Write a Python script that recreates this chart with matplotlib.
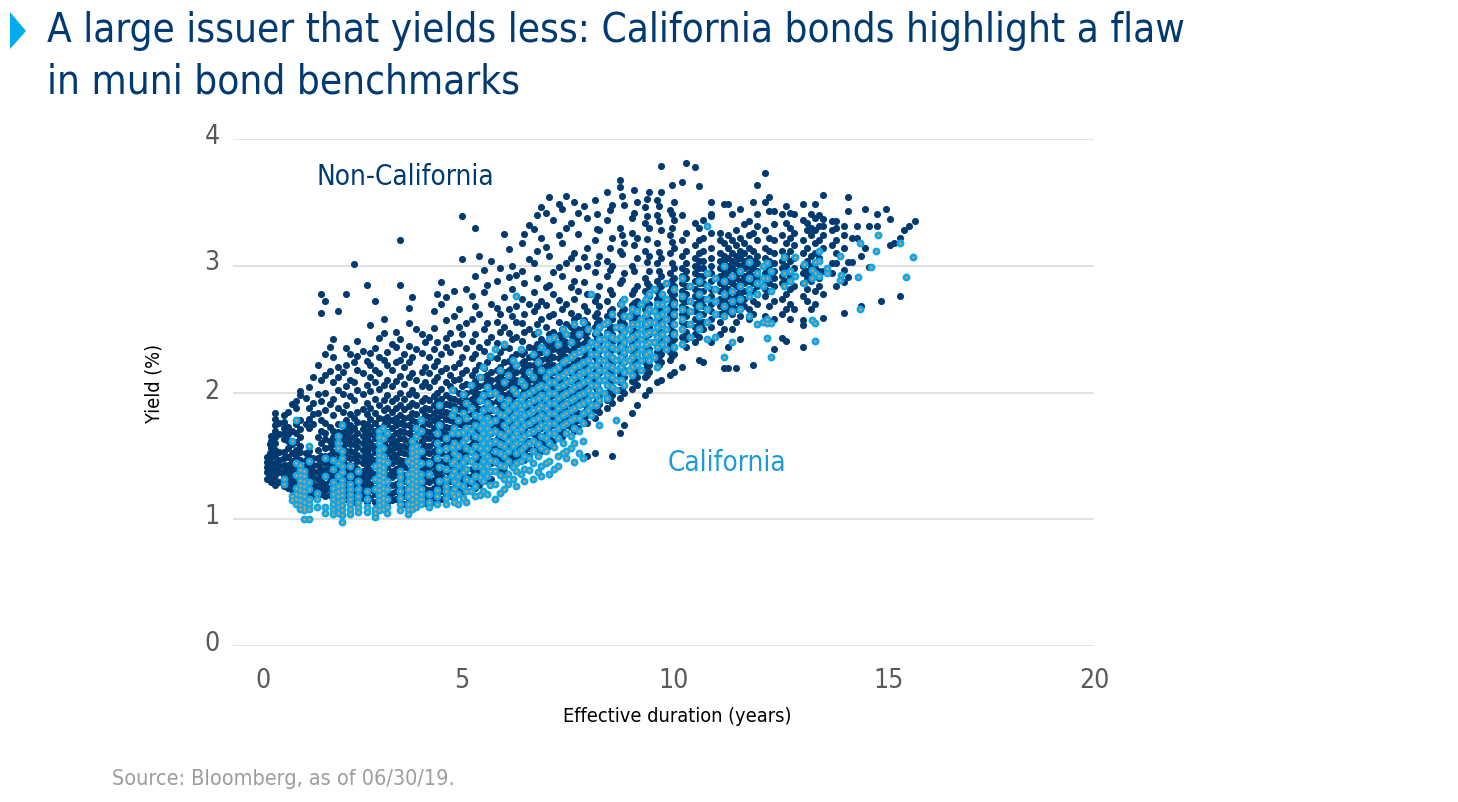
import matplotlib
matplotlib.use("Agg")
import matplotlib.pyplot as plt
from matplotlib.patches import Polygon

# (effective duration, [yields])
noncal_short = [
    (0.1, [1.32, 1.37, 1.41, 1.45, 1.49]),
    (0.2, [1.29, 1.33, 1.36, 1.40, 1.44, 1.49, 1.56, 1.62, 1.66]),
    (0.3, [1.27, 1.31, 1.35, 1.39, 1.44, 1.50, 1.55, 1.60, 1.65, 1.70, 1.74, 1.79, 1.84]),
    (0.5, [1.26, 1.30, 1.34, 1.38, 1.43, 1.48, 1.53, 1.63, 1.68, 1.72, 1.77, 1.82]),
    (0.6, [1.25, 1.29, 1.34, 1.39, 1.43, 1.49, 1.56, 1.62, 1.67, 1.73, 1.85]),
    (0.8, [1.21, 1.25, 1.30, 1.35, 1.39, 1.44, 1.50, 1.55, 1.61, 1.68, 1.75, 1.88, 1.93]),
    (0.9, [1.20, 1.26, 1.31, 1.36, 1.42, 1.47, 1.53, 1.58, 1.65, 1.71, 1.78, 1.98, 2.01]),
    (1.1, [1.19, 1.24, 1.29, 1.34, 1.39, 1.44, 1.49, 1.54, 1.72, 1.79, 1.88, 2.04]),
    (1.2, [1.18, 1.23, 1.28, 1.33, 1.38, 1.43, 1.48, 1.75, 1.83, 1.92, 2.12]),
    (1.4, [1.20, 1.25, 1.30, 1.35, 1.40, 1.45, 1.50, 1.60, 1.70, 1.78, 1.93, 2.10, 2.63, 2.78]),
    (1.5, [1.18, 1.23, 1.28, 1.34, 1.39, 1.44, 1.50, 1.56, 1.63, 1.68, 1.76, 1.86, 2.00, 2.14, 2.30, 2.72]),
    (1.7, [1.17, 1.22, 1.27, 1.33, 1.38, 1.43, 1.48, 1.53, 1.59, 1.65, 1.70, 1.82, 1.95, 2.08, 2.28, 2.42]),
    (1.8, [1.15, 1.21, 1.26, 1.31, 1.37, 1.42, 1.47, 1.52, 1.58, 1.63, 1.69, 1.75, 1.88, 2.02, 2.12, 2.20, 2.64]),
    (2.0, [1.16, 1.22, 1.27, 1.33, 1.38, 1.43, 1.49, 1.54, 1.60, 1.66, 1.72, 1.78, 1.90, 2.05, 2.22, 2.35, 2.78]),
    (2.1, [1.16, 1.21, 1.26, 1.32, 1.37, 1.43, 1.48, 1.54, 1.59, 1.64, 1.70, 1.74, 1.83, 1.97, 2.10, 2.30]),
    (2.2, [1.14, 1.20, 1.26, 1.31, 1.37, 1.42, 1.48, 1.53, 1.59, 1.65, 1.72, 1.80, 1.94, 2.08, 2.24, 3.01]),
    (2.4, [1.17, 1.22, 1.28, 1.33, 1.38, 1.44, 1.49, 1.55, 1.60, 1.66, 1.71, 1.76, 1.87, 1.99, 2.15, 2.33]),
    (2.5, [1.14, 1.19, 1.25, 1.30, 1.36, 1.41, 1.47, 1.53, 1.58, 1.64, 1.69, 1.75, 1.83, 1.92, 2.06, 2.25, 2.85]),
    (2.7, [1.14, 1.20, 1.25, 1.31, 1.36, 1.42, 1.47, 1.53, 1.58, 1.64, 1.70, 1.76, 1.84, 1.95, 2.08, 2.18, 2.35, 2.72]),
    (2.8, [1.15, 1.20, 1.26, 1.32, 1.38, 1.43, 1.49, 1.55, 1.61, 1.66, 1.72, 1.80, 1.90, 2.03, 2.15, 2.28, 2.43]),
    (3.0, [1.13, 1.18, 1.24, 1.30, 1.35, 1.41, 1.46, 1.52, 1.57, 1.63, 1.69, 1.75, 1.81, 1.88, 1.98, 2.10, 2.22, 2.32]),
    (3.1, [1.15, 1.21, 1.27, 1.33, 1.38, 1.44, 1.49, 1.55, 1.60, 1.66, 1.72, 1.78, 1.85, 1.93, 2.05, 2.18, 2.38]),
    (3.3, [1.14, 1.19, 1.24, 1.30, 1.36, 1.42, 1.47, 1.53, 1.58, 1.64, 1.70, 1.76, 1.82, 1.90, 2.00, 2.13, 2.26, 2.42, 2.85, 3.20]),
    (3.4, [1.12, 1.18, 1.24, 1.30, 1.35, 1.41, 1.46, 1.52, 1.58, 1.63, 1.69, 1.74, 1.80, 1.87, 1.95, 2.07, 2.20, 2.30]),
    (3.6, [1.14, 1.20, 1.26, 1.32, 1.37, 1.43, 1.49, 1.54, 1.60, 1.66, 1.72, 1.78, 1.84, 1.92, 2.02, 2.15, 2.28, 2.75]),
    (3.7, [1.15, 1.20, 1.25, 1.31, 1.36, 1.42, 1.47, 1.53, 1.59, 1.65, 1.71, 1.77, 1.83, 1.90, 1.98, 2.10, 2.34, 2.50]),
    (3.9, [1.13, 1.18, 1.24, 1.30, 1.36, 1.41, 1.47, 1.53, 1.58, 1.64, 1.70, 1.76, 1.82, 1.88, 1.96, 2.08, 2.20, 2.40]),
    (4.0, [1.12, 1.17, 1.23, 1.29, 1.35, 1.41, 1.46, 1.52, 1.58, 1.64, 1.69, 1.75, 1.81, 1.87, 1.94, 2.04, 2.15, 2.28, 2.44]),
    (4.2, [1.15, 1.21, 1.27, 1.33, 1.38, 1.44, 1.50, 1.56, 1.62, 1.68, 1.74, 1.80, 1.86, 1.93, 2.00, 2.12, 2.25, 2.40, 2.78]),
    (4.3, [1.16, 1.22, 1.28, 1.34, 1.40, 1.46, 1.52, 1.58, 1.64, 1.70, 1.76, 1.82, 1.88, 1.95, 2.03, 2.17, 2.30, 2.70, 2.87]),
    (4.5, [1.18, 1.24, 1.30, 1.36, 1.42, 1.48, 1.54, 1.60, 1.66, 1.72, 1.78, 1.84, 1.90, 1.96, 2.05, 2.14, 2.32, 2.47]),
    (4.6, [1.17, 1.23, 1.29, 1.35, 1.41, 1.47, 1.53, 1.59, 1.65, 1.71, 1.77, 1.83, 1.89, 1.95, 2.02, 2.10, 2.20, 2.38, 2.60, 2.80]),
    (4.8, [1.20, 1.26, 1.32, 1.38, 1.44, 1.50, 1.56, 1.62, 1.68, 1.74, 1.80, 1.86, 1.92, 1.98, 2.05, 2.15, 2.28, 2.46, 3.39, 3.05]),
    (4.9, [1.22, 1.28, 1.34, 1.40, 1.46, 1.52, 1.58, 1.64, 1.70, 1.76, 1.82, 1.88, 1.94, 2.00, 2.07, 2.18, 2.35, 2.55, 2.82]),
]
noncal_short_fill = [
    (0.16, [1.35, 1.43, 1.52, 1.59]),
    (0.38, [1.29, 1.37, 1.42, 1.47, 1.53, 1.67, 1.76]),
    (0.71, [1.23, 1.28, 1.33, 1.37, 1.41, 1.46, 1.52, 1.59, 1.70, 1.91]),
    (1.03, [1.22, 1.27, 1.32, 1.37, 1.42, 1.47, 1.52, 1.75, 1.96]),
    (1.33, [1.21, 1.26, 1.32, 1.37, 1.43, 1.48, 1.55, 1.65, 1.84, 1.99, 2.22]),
    (1.62, [1.19, 1.25, 1.31, 1.36, 1.41, 1.46, 1.51, 1.57, 1.62, 1.73, 1.91, 2.17, 2.36]),
    (1.92, [1.18, 1.24, 1.30, 1.35, 1.41, 1.46, 1.52, 1.57, 1.63, 1.69, 1.75, 1.85, 1.99, 2.16]),
    (2.27, [1.18, 1.24, 1.29, 1.35, 1.40, 1.46, 1.51, 1.57, 1.62, 1.68, 1.77, 1.85, 2.02, 2.18, 2.29, 2.41]),
    (2.58, [1.17, 1.23, 1.28, 1.34, 1.39, 1.45, 1.50, 1.56, 1.61, 1.67, 1.73, 1.79, 1.88, 2.01, 2.12, 2.22, 2.31, 2.53]),
    (2.91, [1.16, 1.22, 1.27, 1.33, 1.39, 1.44, 1.50, 1.54, 1.60, 1.67, 1.74, 1.79, 1.86, 1.94, 2.06, 2.26, 2.47, 2.58]),
    (3.21, [1.16, 1.22, 1.28, 1.35, 1.40, 1.46, 1.51, 1.57, 1.62, 1.68, 1.74, 1.80, 1.88, 1.96, 2.09, 2.24, 2.36, 2.48]),
    (3.52, [1.15, 1.22, 1.28, 1.34, 1.39, 1.45, 1.51, 1.56, 1.62, 1.68, 1.74, 1.81, 1.89, 1.99, 2.12, 2.24, 2.37, 2.55, 2.67]),
    (3.83, [1.16, 1.22, 1.28, 1.34, 1.39, 1.45, 1.50, 1.56, 1.62, 1.67, 1.73, 1.79, 1.86, 1.93, 2.05, 2.16, 2.31, 2.46]),
    (4.12, [1.14, 1.19, 1.25, 1.31, 1.37, 1.43, 1.48, 1.54, 1.60, 1.66, 1.72, 1.78, 1.84, 1.90, 1.97, 2.09, 2.21, 2.34, 2.51, 2.64]),
    (4.42, [1.20, 1.26, 1.32, 1.38, 1.44, 1.50, 1.56, 1.61, 1.67, 1.73, 1.79, 1.85, 1.91, 1.98, 2.08, 2.19, 2.36, 2.43, 2.57, 2.75]),
    (4.72, [1.22, 1.28, 1.34, 1.40, 1.46, 1.52, 1.57, 1.63, 1.69, 1.75, 1.81, 1.87, 1.93, 2.00, 2.11, 2.23, 2.39, 2.52, 2.66]),
]
noncal_mid = [
    (5.1, [1.25, 1.31, 1.37, 1.43, 1.49, 1.55, 1.61, 1.67, 1.73, 1.79, 1.85, 1.91, 1.97, 2.03, 2.09, 2.18, 2.30, 2.46, 2.68, 2.92, 3.30]),
    (5.2, [1.27, 1.33, 1.39, 1.45, 1.51, 1.57, 1.63, 1.69, 1.75, 1.81, 1.87, 1.93, 1.99, 2.05, 2.12, 2.22, 2.36, 2.62, 3.08]),
    (5.4, [1.30, 1.36, 1.42, 1.48, 1.54, 1.60, 1.66, 1.72, 1.78, 1.84, 1.90, 1.96, 2.02, 2.08, 2.14, 2.24, 2.40, 2.55, 2.85]),
    (5.5, [1.32, 1.38, 1.44, 1.50, 1.56, 1.62, 1.68, 1.74, 1.80, 1.86, 1.92, 1.98, 2.04, 2.10, 2.16, 2.28, 2.44, 2.70, 3.04]),
    (5.7, [1.35, 1.41, 1.47, 1.53, 1.59, 1.65, 1.71, 1.77, 1.83, 1.89, 1.95, 2.01, 2.07, 2.13, 2.20, 2.32, 2.48, 2.62, 2.98]),
    (5.8, [1.38, 1.44, 1.50, 1.56, 1.62, 1.68, 1.74, 1.80, 1.86, 1.92, 1.98, 2.04, 2.10, 2.16, 2.24, 2.36, 2.52, 2.75, 3.25]),
    (6.0, [1.42, 1.48, 1.54, 1.60, 1.66, 1.72, 1.78, 1.84, 1.90, 1.96, 2.02, 2.08, 2.14, 2.20, 2.28, 2.42, 2.60, 2.82, 3.00]),
    (6.1, [1.44, 1.50, 1.56, 1.62, 1.68, 1.74, 1.80, 1.86, 1.92, 1.98, 2.04, 2.10, 2.16, 2.22, 2.30, 2.44, 2.56, 2.68, 2.93]),
    (6.3, [1.47, 1.53, 1.59, 1.65, 1.71, 1.77, 1.83, 1.89, 1.95, 2.01, 2.07, 2.13, 2.19, 2.25, 2.32, 2.48, 2.62, 2.86, 3.25]),
    (6.4, [1.50, 1.56, 1.62, 1.68, 1.74, 1.80, 1.86, 1.92, 1.98, 2.04, 2.10, 2.16, 2.22, 2.28, 2.36, 2.50, 2.70, 3.05, 3.32]),
    (6.6, [1.52, 1.58, 1.64, 1.70, 1.76, 1.82, 1.88, 1.94, 2.00, 2.06, 2.12, 2.18, 2.24, 2.30, 2.38, 2.54, 2.68, 2.90, 3.12, 3.40]),
    (6.7, [1.54, 1.60, 1.66, 1.72, 1.78, 1.84, 1.90, 1.96, 2.02, 2.08, 2.14, 2.20, 2.26, 2.32, 2.42, 2.58, 2.72, 3.22, 3.46]),
    (6.9, [1.58, 1.64, 1.70, 1.76, 1.82, 1.88, 1.94, 2.00, 2.06, 2.12, 2.18, 2.24, 2.30, 2.36, 2.46, 2.60, 2.85, 3.08, 3.54]),
    (7.0, [1.62, 1.68, 1.74, 1.80, 1.86, 1.92, 1.98, 2.04, 2.10, 2.16, 2.22, 2.28, 2.34, 2.40, 2.48, 2.62, 2.78, 2.95, 3.36]),
    (7.2, [1.65, 1.71, 1.77, 1.83, 1.89, 1.95, 2.01, 2.07, 2.13, 2.19, 2.25, 2.31, 2.37, 2.43, 2.50, 2.66, 2.92, 3.18, 3.45]),
    (7.3, [1.68, 1.74, 1.80, 1.86, 1.92, 1.98, 2.04, 2.10, 2.16, 2.22, 2.28, 2.34, 2.40, 2.46, 2.54, 2.70, 3.02, 3.30, 3.55]),
    (7.5, [1.70, 1.76, 1.82, 1.88, 1.94, 2.00, 2.06, 2.12, 2.18, 2.24, 2.30, 2.36, 2.42, 2.48, 2.58, 2.74, 2.88, 3.10, 3.50]),
    (7.6, [1.72, 1.78, 1.84, 1.90, 1.96, 2.02, 2.08, 2.14, 2.20, 2.26, 2.32, 2.38, 2.44, 2.50, 2.60, 2.80, 2.98, 3.25, 3.42]),
    (7.8, [1.50, 1.76, 1.82, 1.88, 1.94, 2.00, 2.06, 2.12, 2.18, 2.24, 2.30, 2.36, 2.42, 2.48, 2.54, 2.64, 2.78, 3.00, 3.14, 3.38]),
    (8.0, [1.52, 1.80, 1.86, 1.92, 1.98, 2.04, 2.10, 2.16, 2.22, 2.28, 2.34, 2.40, 2.46, 2.52, 2.60, 2.72, 2.95, 3.20, 3.52]),
    (8.1, [1.85, 1.91, 1.97, 2.03, 2.09, 2.15, 2.21, 2.27, 2.33, 2.39, 2.45, 2.51, 2.57, 2.68, 2.84, 3.08, 3.28]),
    (8.3, [1.88, 1.94, 2.00, 2.06, 2.12, 2.18, 2.24, 2.30, 2.36, 2.42, 2.48, 2.54, 2.60, 2.72, 2.92, 3.04, 3.36, 3.58]),
    (8.4, [1.50, 1.92, 1.98, 2.04, 2.10, 2.16, 2.22, 2.28, 2.34, 2.40, 2.46, 2.52, 2.58, 2.66, 2.78, 3.00, 3.22, 3.48]),
    (8.6, [1.68, 1.96, 2.02, 2.08, 2.14, 2.20, 2.26, 2.32, 2.38, 2.44, 2.50, 2.56, 2.62, 2.70, 2.86, 3.12, 3.30, 3.62, 3.68]),
    (8.7, [1.74, 2.00, 2.06, 2.12, 2.18, 2.24, 2.30, 2.36, 2.42, 2.48, 2.54, 2.60, 2.66, 2.74, 2.94, 3.18, 3.48]),
    (8.9, [1.84, 2.03, 2.09, 2.15, 2.21, 2.27, 2.33, 2.39, 2.45, 2.51, 2.57, 2.63, 2.69, 2.78, 3.00, 3.26, 3.38]),
    (9.0, [1.90, 2.06, 2.12, 2.18, 2.24, 2.30, 2.36, 2.42, 2.48, 2.54, 2.60, 2.66, 2.72, 2.84, 3.06, 3.22, 3.50]),
    (9.2, [1.98, 2.12, 2.18, 2.24, 2.30, 2.36, 2.42, 2.48, 2.54, 2.60, 2.66, 2.72, 2.80, 2.90, 3.12, 3.34, 3.46]),
    (9.3, [2.02, 2.16, 2.22, 2.28, 2.34, 2.40, 2.46, 2.52, 2.58, 2.64, 2.70, 2.76, 2.84, 2.96, 3.08, 3.30, 3.58]),
    (9.5, [2.08, 2.20, 2.26, 2.32, 2.38, 2.44, 2.50, 2.56, 2.62, 2.68, 2.74, 2.80, 2.88, 3.02, 3.18, 3.40, 3.52]),
    (9.6, [2.10, 2.24, 2.30, 2.36, 2.42, 2.48, 2.54, 2.60, 2.66, 2.72, 2.78, 2.84, 2.92, 3.06, 3.28, 3.58, 3.79]),
    (9.8, [2.14, 2.26, 2.32, 2.38, 2.44, 2.50, 2.56, 2.62, 2.68, 2.74, 2.80, 2.86, 2.94, 3.10, 3.24, 3.44]),
    (9.9, [2.16, 2.30, 2.36, 2.42, 2.48, 2.54, 2.60, 2.66, 2.72, 2.78, 2.84, 2.90, 2.98, 3.14, 3.36, 3.50]),
]
noncal_mid_fill = [
    (5.03, [1.28, 1.34, 1.40, 1.47, 1.53, 1.59, 1.65, 1.71, 1.77, 1.83, 1.89, 1.95, 2.01, 2.06, 2.14, 2.27, 2.41, 2.58, 2.76]),
    (5.33, [1.33, 1.39, 1.46, 1.52, 1.58, 1.64, 1.70, 1.76, 1.82, 1.88, 1.94, 2.00, 2.06, 2.12, 2.19, 2.33, 2.50, 2.79, 2.97]),
    (5.63, [1.38, 1.44, 1.50, 1.57, 1.63, 1.69, 1.75, 1.81, 1.87, 1.93, 1.99, 2.05, 2.11, 2.18, 2.27, 2.39, 2.56, 2.67, 2.88]),
    (5.93, [1.45, 1.51, 1.57, 1.64, 1.70, 1.76, 1.82, 1.88, 1.94, 2.00, 2.06, 2.12, 2.18, 2.25, 2.35, 2.47, 2.66, 2.91, 3.13]),
    (6.23, [1.50, 1.57, 1.63, 1.69, 1.75, 1.81, 1.87, 1.93, 1.99, 2.05, 2.11, 2.17, 2.23, 2.30, 2.41, 2.55, 2.74, 2.96, 3.18]),
    (6.53, [1.55, 1.61, 1.67, 1.73, 1.80, 1.86, 1.92, 1.98, 2.04, 2.10, 2.16, 2.22, 2.28, 2.35, 2.46, 2.64, 2.79, 3.02, 3.29]),
    (6.83, [1.60, 1.67, 1.73, 1.79, 1.85, 1.91, 1.97, 2.03, 2.09, 2.15, 2.21, 2.27, 2.33, 2.39, 2.52, 2.69, 2.83, 3.15, 3.42]),
    (7.13, [1.68, 1.74, 1.80, 1.85, 1.91, 1.97, 2.03, 2.09, 2.15, 2.21, 2.27, 2.33, 2.39, 2.45, 2.56, 2.73, 2.99, 3.24, 3.49]),
    (7.43, [1.73, 1.79, 1.85, 1.91, 1.97, 2.03, 2.09, 2.15, 2.21, 2.27, 2.33, 2.39, 2.45, 2.52, 2.63, 2.83, 3.06, 3.34]),
    (7.73, [1.78, 1.85, 1.91, 1.97, 2.03, 2.09, 2.15, 2.21, 2.27, 2.33, 2.39, 2.45, 2.51, 2.57, 2.68, 2.87, 3.07, 3.47]),
    (8.05, [1.88, 1.94, 2.01, 2.07, 2.13, 2.19, 2.25, 2.31, 2.37, 2.43, 2.49, 2.55, 2.63, 2.76, 3.02, 3.29, 3.41]),
    (8.35, [1.95, 2.03, 2.09, 2.15, 2.21, 2.27, 2.33, 2.39, 2.45, 2.51, 2.57, 2.64, 2.81, 2.97, 3.14, 3.44]),
    (8.65, [2.03, 2.10, 2.16, 2.22, 2.28, 2.34, 2.40, 2.46, 2.52, 2.58, 2.64, 2.72, 2.89, 3.09, 3.24, 3.55]),
    (8.95, [2.08, 2.17, 2.23, 2.29, 2.35, 2.41, 2.47, 2.53, 2.59, 2.65, 2.71, 2.81, 2.96, 3.16, 3.42, 3.60]),
    (9.25, [2.14, 2.21, 2.27, 2.33, 2.39, 2.45, 2.51, 2.57, 2.63, 2.69, 2.75, 2.86, 3.03, 3.21, 3.39, 3.53]),
    (9.55, [2.22, 2.29, 2.35, 2.41, 2.47, 2.53, 2.59, 2.65, 2.71, 2.77, 2.83, 2.96, 3.11, 3.35, 3.47]),
    (9.85, [2.29, 2.35, 2.41, 2.47, 2.53, 2.59, 2.65, 2.71, 2.77, 2.83, 2.89, 3.02, 3.19, 3.30, 3.41, 3.64]),
]
noncal_long = [
    (10.1, [2.20, 2.38, 2.44, 2.50, 2.56, 2.62, 2.68, 2.74, 2.80, 2.86, 2.92, 2.98, 3.08, 3.20, 3.40, 3.66]),
    (10.2, [2.36, 2.42, 2.48, 2.54, 2.60, 2.66, 2.72, 2.78, 2.84, 2.90, 2.96, 3.02, 3.12, 3.26, 3.81]),
    (10.4, [2.40, 2.46, 2.52, 2.58, 2.64, 2.70, 2.76, 2.82, 2.88, 2.94, 3.00, 3.06, 3.16, 3.34, 3.78]),
    (10.5, [2.26, 2.44, 2.50, 2.56, 2.62, 2.68, 2.74, 2.80, 2.86, 2.92, 2.98, 3.04, 3.10, 3.20, 3.30, 3.63]),
    (10.6, [2.24, 2.50, 2.56, 2.62, 2.68, 2.74, 2.80, 2.86, 2.92, 2.98, 3.04, 3.12, 3.22, 3.36]),
    (10.8, [2.40, 2.52, 2.58, 2.64, 2.70, 2.76, 2.82, 2.88, 2.94, 3.00, 3.06, 3.14, 3.26, 3.39, 3.41, 3.50]),
    (11.0, [2.46, 2.56, 2.62, 2.68, 2.74, 2.80, 2.86, 2.92, 2.98, 3.04, 3.10, 3.20, 3.26]),
    (11.1, [2.19, 2.50, 2.60, 2.66, 2.72, 2.78, 2.84, 2.90, 2.96, 3.02, 3.08, 3.18, 3.49]),
    (11.2, [2.19, 2.36, 2.64, 2.70, 2.76, 2.82, 2.88, 2.94, 3.00, 3.06, 3.14, 3.24, 3.49]),
    (11.3, [2.50, 2.62, 2.68, 2.74, 2.80, 2.86, 2.92, 2.98, 3.04, 3.10, 3.20, 3.41]),
    (11.4, [2.19, 2.56, 2.66, 2.72, 2.78, 2.84, 2.90, 2.96, 3.02, 3.08, 3.16, 3.28]),
    (11.5, [2.42, 2.60, 2.70, 2.76, 2.82, 2.88, 2.94, 3.00, 3.06, 3.12, 3.22, 3.45]),
    (11.6, [2.68, 2.74, 2.80, 2.86, 2.92, 2.98, 3.04, 3.10, 3.18, 3.33]),
    (11.7, [2.58, 2.66, 2.76, 2.82, 2.88, 2.94, 3.00, 3.06, 3.14, 3.24, 3.35]),
    (11.8, [2.22, 2.62, 2.72, 2.80, 2.86, 2.92, 2.98, 3.04, 3.12, 3.26, 3.50]),
    (11.9, [2.54, 2.70, 2.78, 2.84, 2.90, 2.96, 3.02, 3.08, 3.20, 3.31, 3.41, 3.64]),
    (12.1, [2.60, 2.76, 2.82, 2.88, 2.94, 3.00, 3.06, 3.14, 3.28, 3.50, 3.73]),
    (12.2, [2.56, 2.68, 2.80, 2.86, 2.92, 2.98, 3.04, 3.12, 3.22, 3.43, 3.54]),
    (12.3, [2.34, 2.58, 2.72, 2.84, 2.90, 2.96, 3.02, 3.10, 3.20, 3.33, 3.43]),
    (12.5, [2.43, 2.62, 2.74, 2.86, 2.92, 2.98, 3.04, 3.12, 3.24, 3.41]),
    (12.6, [2.41, 2.66, 2.78, 2.88, 2.94, 3.00, 3.08, 3.18, 3.34, 3.47]),
    (12.7, [2.58, 2.70, 2.82, 2.90, 2.96, 3.04, 3.12, 3.22, 3.30, 3.42]),
    (12.8, [2.66, 2.84, 2.92, 2.98, 3.06, 3.16, 3.26, 3.41]),
    (13.0, [2.36, 2.53, 2.57, 2.76, 2.86, 2.94, 3.00, 3.10, 3.20, 3.36, 3.49]),
    (13.1, [2.72, 2.82, 2.90, 2.96, 3.04, 3.14, 3.28, 3.34]),
    (13.2, [2.66, 2.88, 2.94, 3.00, 3.08, 3.24, 3.41, 3.30]),
    (13.3, [2.70, 2.80, 2.92, 2.98, 3.10, 3.18, 3.28, 3.38, 3.49]),
    (13.4, [2.84, 2.90, 2.96, 3.06, 3.20, 3.31, 3.40]),
    (13.5, [2.59, 2.78, 2.96, 3.14, 3.24, 3.31, 3.37, 3.56]),
    (13.7, [2.94, 3.02, 3.16, 3.28, 3.35]),
    (13.8, [2.84, 3.02, 3.10, 3.20, 3.30, 3.35]),
    (14.0, [2.63, 2.87, 2.97, 3.14, 3.24, 3.31]),
    (14.1, [2.91, 3.03, 3.43, 3.54]),
    (14.2, [3.03, 3.22]),
    (14.3, [3.22, 3.31]),
    (14.4, [2.68, 3.08]),
    (14.5, [3.14, 3.45]),
    (14.6, [3.31, 2.99]),
    (14.8, [3.31, 3.41]),
    (14.9, [2.72]),
    (15.0, [3.45]),
    (15.1, [3.16, 3.37]),
    (15.2, [3.18]),
    (15.35, [2.76, 3.22]),
    (15.45, [3.28]),
    (15.57, [3.31]),
    (15.71, [3.35]),
]

cal_short = [
    (0.5, [1.28, 1.32]),
    (0.7, [1.15, 1.18, 1.62]),
    (0.8, [1.12, 1.16, 1.20, 1.25, 1.35, 1.44, 1.78]),
    (0.9, [1.08, 1.11, 1.15, 1.19, 1.23, 1.27, 1.31, 1.35, 1.39, 1.43]),
    (1.0, [1.00, 1.07, 1.10, 1.14, 1.18, 1.22, 1.26, 1.30, 1.34, 1.38]),
    (1.1, [1.00, 1.08, 1.12, 1.16, 1.24, 1.29, 1.46, 1.58]),
    (1.3, [1.10, 1.16, 1.21]),
    (1.5, [1.10, 1.05, 1.34, 1.48]),
    (1.7, [1.04, 1.08, 1.12, 1.16, 1.20, 1.25, 1.29, 1.40, 1.47]),
    (1.8, [1.05, 1.10, 1.14, 1.18, 1.22, 1.26, 1.34, 1.44, 1.56, 1.60, 1.66]),
    (1.9, [0.98, 1.03, 1.07, 1.11, 1.15, 1.19, 1.23, 1.27, 1.31, 1.37, 1.42, 1.48, 1.54, 1.74]),
    (2.1, [1.04, 1.08, 1.12, 1.16, 1.20, 1.24, 1.28, 1.34, 1.42]),
    (2.3, [1.06, 1.10, 1.14, 1.18, 1.24, 1.30, 1.38]),
    (2.5, [1.06, 1.10, 1.16, 1.22]),
    (2.7, [1.02, 1.05, 1.08, 1.24, 1.32, 1.42]),
    (2.8, [1.07, 1.11, 1.15, 1.19, 1.23, 1.27, 1.31, 1.35, 1.39, 1.43, 1.47, 1.51, 1.55, 1.60, 1.65, 1.70]),
    (2.9, [1.08, 1.13, 1.17, 1.21, 1.25, 1.29, 1.33, 1.37, 1.41, 1.46, 1.50, 1.56, 1.64, 1.72]),
    (3.0, [1.05, 1.10, 1.16, 1.24, 1.30, 1.45, 1.68]),
    (3.3, [1.07, 1.12, 1.17, 1.22, 1.28, 1.33, 1.38]),
    (3.5, [1.04, 1.08, 1.12, 1.18, 1.24, 1.30, 1.36, 1.46]),
    (3.6, [1.08, 1.12, 1.16, 1.20, 1.24, 1.28, 1.32, 1.36, 1.40, 1.44, 1.48, 1.52, 1.56, 1.62]),
    (3.7, [1.10, 1.14, 1.18, 1.22, 1.26, 1.30, 1.34, 1.38, 1.42, 1.46, 1.50, 1.54, 1.58, 1.66, 1.72]),
    (3.8, [1.12, 1.16, 1.20, 1.24, 1.30, 1.36, 1.44, 1.54, 1.70, 1.78]),
    (4.0, [1.10, 1.14, 1.20, 1.36, 1.44]),
    (4.2, [1.12, 1.18, 1.23, 1.48, 1.60, 1.68]),
    (4.4, [1.12, 1.17, 1.22, 1.26, 1.32, 1.40, 1.48, 1.56, 1.64]),
    (4.6, [1.14, 1.18, 1.24, 1.30, 1.38, 1.46, 1.52, 1.60, 1.72, 1.86]),
    (4.7, [1.12, 1.20, 1.28, 1.34, 1.42, 1.50, 1.58, 1.68, 1.78]),
    (4.9, [1.14, 1.22, 1.32, 1.40, 1.48, 1.56, 1.64, 1.72, 1.80, 1.92]),
]
cal_mid = [
    (5.1, [1.18, 1.26, 1.34, 1.42, 1.50, 1.58, 1.66, 1.74, 1.82]),
    (5.3, [1.22, 1.30, 1.38, 1.46, 1.52, 1.60, 1.68, 1.76, 1.86, 1.98, 2.20]),
    (5.4, [1.20, 1.34, 1.42, 1.50, 1.56, 1.64, 1.72, 1.80, 1.92, 2.04]),
    (5.6, [1.16, 1.28, 1.38, 1.46, 1.54, 1.62, 1.70, 1.78, 1.86, 2.00, 2.34]),
    (5.8, [1.24, 1.32, 1.42, 1.50, 1.58, 1.66, 1.74, 1.82, 1.90, 2.08, 2.38]),
    (5.9, [1.28, 1.36, 1.46, 1.54, 1.62, 1.70, 1.78, 1.86, 1.94, 2.14]),
    (6.1, [1.26, 1.38, 1.44, 1.52, 1.60, 1.68, 1.76, 1.84, 1.92, 2.00, 2.22, 2.76]),
    (6.3, [1.30, 1.40, 1.50, 1.58, 1.66, 1.74, 1.82, 1.90, 1.98, 2.06]),
    (6.5, [1.32, 1.44, 1.54, 1.62, 1.70, 1.78, 1.86, 1.94, 2.02, 2.12, 2.30]),
    (6.7, [1.34, 1.42, 1.56, 1.66, 1.74, 1.82, 1.90, 1.98, 2.06, 2.18, 2.36]),
    (6.9, [1.36, 1.46, 1.60, 1.68, 1.76, 1.84, 1.92, 2.00, 2.08, 2.16, 2.42]),
    (7.1, [1.42, 1.50, 1.64, 1.72, 1.80, 1.88, 1.96, 2.04, 2.12, 2.20, 2.38]),
    (7.3, [1.48, 1.54, 1.68, 1.76, 1.84, 1.92, 2.00, 2.08, 2.16, 2.26, 2.46]),
    (7.5, [1.45, 1.60, 1.72, 1.80, 1.88, 1.96, 2.04, 2.12, 2.20, 2.30, 2.54]),
    (7.7, [1.48, 1.62, 1.76, 1.84, 1.92, 2.00, 2.08, 2.16, 2.24, 2.34, 2.56]),
    (7.9, [1.82, 1.90, 1.98, 2.06, 2.14, 2.22, 2.30, 2.40, 2.78]),
    (8.1, [1.74, 1.94, 2.02, 2.10, 2.18, 2.26, 2.34, 2.42, 2.52]),
    (8.3, [1.96, 2.06, 2.14, 2.22, 2.30, 2.38, 2.46, 2.56]),
    (8.5, [1.78, 2.02, 2.10, 2.18, 2.26, 2.34, 2.42, 2.52]),
    (8.7, [2.06, 2.16, 2.24, 2.32, 2.40, 2.48, 2.60, 2.74]),
    (8.9, [2.14, 2.20, 2.28, 2.36, 2.44, 2.54, 2.66]),
    (9.1, [2.18, 2.26, 2.34, 2.42, 2.50, 2.58, 2.70]),
    (9.3, [2.26, 2.32, 2.40, 2.48, 2.56, 2.66, 2.78]),
    (9.5, [2.20, 2.36, 2.44, 2.52, 2.60, 2.70]),
    (9.7, [2.34, 2.42, 2.50, 2.58, 2.66, 2.74, 2.86]),
    (9.9, [2.36, 2.46, 2.54, 2.62, 2.70, 2.82]),
]
cal_fill = [
    (4.25, [1.30, 1.41, 1.55, 1.74, 1.90]),
    (4.55, [1.21, 1.35, 1.44, 1.57, 1.68, 1.82, 2.02]),
    (4.83, [1.17, 1.26, 1.37, 1.45, 1.61, 1.69, 1.84, 1.99]),
    (5.02, [1.22, 1.30, 1.46, 1.54, 1.70, 1.88, 2.06]),
    (5.23, [1.19, 1.33, 1.42, 1.56, 1.64, 1.72, 1.81, 1.94, 2.12]),
    (5.48, [1.27, 1.38, 1.47, 1.60, 1.69, 1.77, 1.88, 2.00, 2.29]),
    (5.72, [1.21, 1.35, 1.43, 1.52, 1.59, 1.67, 1.83, 1.96, 2.18]),
    (6.02, [1.32, 1.41, 1.58, 1.65, 1.73, 1.81, 1.89, 2.03, 2.26]),
    (6.22, [1.36, 1.46, 1.55, 1.63, 1.71, 1.79, 1.87, 1.95, 2.09, 2.34]),
    (6.42, [1.39, 1.48, 1.60, 1.68, 1.76, 1.84, 1.92, 2.00, 2.16]),
    (6.62, [1.37, 1.50, 1.59, 1.72, 1.80, 1.88, 1.96, 2.04, 2.24, 2.48]),
    (6.82, [1.44, 1.54, 1.64, 1.72, 1.80, 1.88, 1.96, 2.04, 2.12, 2.32]),
    (7.02, [1.40, 1.57, 1.68, 1.76, 1.84, 1.92, 2.00, 2.08, 2.18, 2.44]),
    (7.22, [1.52, 1.60, 1.74, 1.82, 1.90, 1.98, 2.06, 2.14, 2.24, 2.50]),
    (7.42, [1.56, 1.66, 1.78, 1.86, 1.94, 2.02, 2.10, 2.18, 2.28, 2.40]),
    (7.62, [1.52, 1.70, 1.80, 1.90, 1.98, 2.06, 2.14, 2.22, 2.32, 2.46]),
    (7.82, [1.86, 1.94, 2.02, 2.10, 2.18, 2.26, 2.36, 2.50]),
    (8.02, [1.90, 1.98, 2.06, 2.14, 2.22, 2.30, 2.38, 2.48]),
    (8.22, [2.00, 2.10, 2.18, 2.26, 2.34, 2.42, 2.54]),
    (8.42, [2.04, 2.12, 2.20, 2.28, 2.36, 2.44, 2.62]),
    (8.62, [2.10, 2.20, 2.28, 2.36, 2.44, 2.52, 2.70]),
    (8.82, [2.18, 2.26, 2.34, 2.42, 2.50, 2.60]),
    (9.02, [2.22, 2.30, 2.38, 2.46, 2.54, 2.64]),
    (9.22, [2.30, 2.38, 2.46, 2.54, 2.62, 2.74]),
    (9.42, [2.28, 2.40, 2.48, 2.56, 2.64, 2.82]),
    (9.62, [2.38, 2.46, 2.54, 2.62, 2.70, 2.78]),
]
cal_long = [
    (10.1, [2.38, 2.50, 2.58, 2.66, 2.76, 2.90]),
    (10.3, [2.44, 2.54, 2.64, 2.72, 2.84]),
    (10.5, [2.50, 2.60, 2.68, 2.78, 2.88]),
    (10.7, [2.42, 2.56, 2.66, 2.74, 2.84, 2.94, 3.31]),
    (10.9, [2.44, 2.62, 2.72, 2.82, 2.90]),
    (11.1, [2.28, 2.60, 2.68, 2.78, 2.88, 3.00]),
    (11.3, [2.40, 2.64, 2.72, 2.80, 2.92]),
    (11.5, [2.66, 2.74, 2.84, 2.96]),
    (11.7, [2.60, 2.76, 2.82, 2.90, 3.03]),
    (11.9, [2.54, 2.78, 2.86, 2.94]),
    (12.05, [2.56, 2.84, 2.90, 3.00]),
    (12.15, [2.43, 2.55, 2.58, 2.90, 3.02]),
    (12.24, [2.28, 2.55, 2.80, 2.96]),
    (12.55, [2.84, 2.94, 3.07]),
    (12.7, [2.88, 2.96]),
    (12.82, [2.92, 3.07]),
    (13.04, [2.86, 3.01]),
    (13.22, [2.57, 2.90, 2.97]),
    (13.3, [2.41, 2.55, 2.94, 3.03]),
    (13.4, [2.92, 3.04, 3.12]),
    (13.6, [2.94, 2.98]),
    (13.89, [2.89, 3.08]),
    (13.93, [2.93]),
    (14.33, [2.91]),
    (14.38, [2.66, 3.18]),
    (14.65, [2.99]),
    (14.77, [3.12]),
    (14.82, [3.24]),
    (15.35, [3.18]),
    (15.49, [2.91]),
    (15.67, [3.07]),
]

x_ticks = [0, 5, 10, 15, 20]
y_ticks = [0, 1, 2, 3, 4]

NAVY = "#003a70"
SKY = "#0aa8ea"
W, H = 1458, 802


def flatten(*bands):
    xs, ys = [], []
    for band in bands:
        for d, yields in band:
            for y in yields:
                xs.append(d)
                ys.append(y)
    return xs, ys


def put(x, y, s, **kw):
    return fig.text(x / W, 1 - y / H, s, family="DejaVu Sans", stretch="condensed", **kw)


fig = plt.figure(figsize=(W / 100, H / 100), dpi=100)
ax = fig.add_axes([233 / W, 1 - 646 / H, (1094 - 233) / W, (646 - 139) / H])
ax.set_xlim(-0.72, 20.02)
ax.set_ylim(0, 4)
for s in ax.spines.values():
    s.set_visible(False)
ax.grid(axis="y", color="#dcdcdc", lw=1.2)
ax.set_axisbelow(True)
ax.tick_params(length=0)
ax.set_yticks(y_ticks)
ax.set_xticks([])
ax.set_yticklabels([])

nx, ny = flatten(noncal_short, noncal_short_fill, noncal_mid, noncal_mid_fill, noncal_long)
cx, cy = flatten(cal_short, cal_mid, cal_fill, cal_long)
ax.scatter(nx, ny, s=26, color=NAVY, lw=0, zorder=2)
ax.scatter(cx, cy, s=32, color=SKY, lw=0, zorder=3)
ax.scatter(cx, cy, s=3, color="#ef9a50", lw=0, zorder=4)

for t, py in zip(y_ticks, [644, 517, 392, 263, 137]):
    put(212, py, str(t), fontsize=19, color="#595959", ha="center", va="center")
for t, px in zip(x_ticks, [263, 462, 674, 888, 1094]):
    put(px, 681, str(t), fontsize=19, color="#595959", ha="center", va="center")

put(154, 383, "Yield (%)", fontsize=14.3, color="black", rotation=90, ha="center", va="center")
put(677, 716, "Effective duration (years)", fontsize=14.3, color="black", ha="center", va="center")
put(405, 177, "Non-California", fontsize=20, color=NAVY, ha="center", va="center")
put(727, 463, "California", fontsize=20, color="#1b9cd8", ha="center", va="center")
put(112, 779, "Source: Bloomberg, as of 06/30/19.", fontsize=15.5, color="#9b9da1", ha="left", va="center")

put(47, 31, "A large issuer that yields less: California bonds highlight a flaw",
    fontsize=29, color=NAVY, ha="left", va="center")
put(47, 83, "in muni bond benchmarks", fontsize=29, color=NAVY, ha="left", va="center")

fig.add_artist(Polygon([(10 / W, 1 - 12 / H), (26 / W, 1 - 31 / H), (10 / W, 1 - 49 / H)],
                       closed=True, color="#00aeef", lw=0, transform=fig.transFigure))

fig.savefig("out.png", dpi=100)
